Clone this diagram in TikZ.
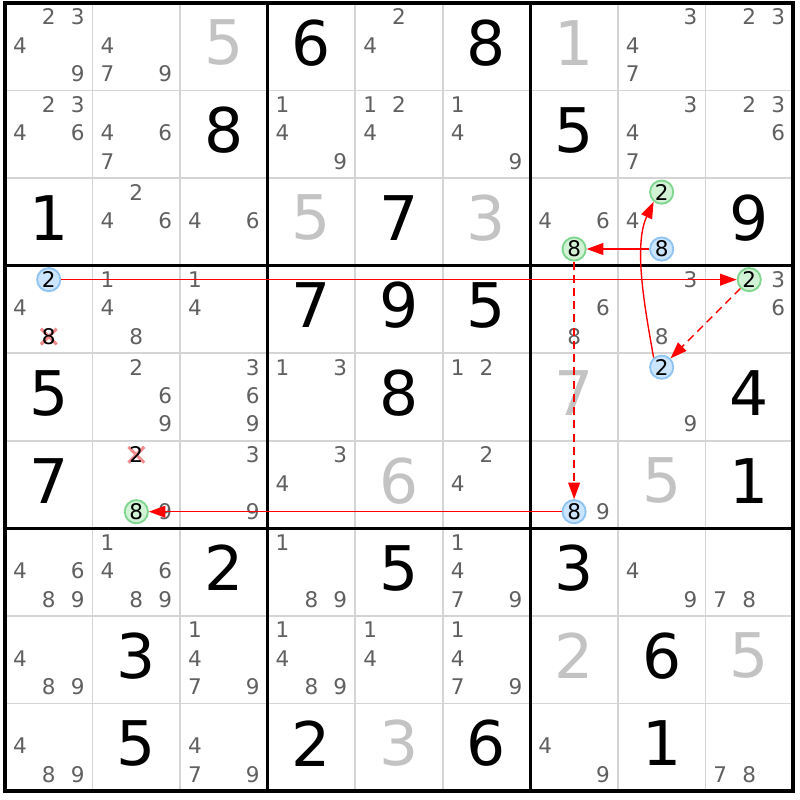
\documentclass[tikz,border=0pt]{standalone}
\usepackage{fontspec}
\setmainfont{DejaVu Sans}
\usetikzlibrary{arrows.meta}
\tikzset{>={Triangle[length=1.9mm,width=1.35mm]}}
\definecolor{candgray}{HTML}{606060}
\definecolor{solvgray}{HTML}{C3C3C3}
\definecolor{thingrid}{HTML}{D4D4D4}
\definecolor{onblue}{HTML}{CCE5FF}
\definecolor{onblueline}{HTML}{8FC3F2}
\definecolor{ongreen}{HTML}{D2F2D6}
\definecolor{ongreenline}{HTML}{7FD68F}
\definecolor{crossred}{HTML}{F08C8C}

\begin{document}
\begin{tikzpicture}[
    given/.style={font=\fontsize{20}{22}\selectfont, inner sep=0pt},
    solved/.style={given, text=solvgray},
    cand/.style={font=\fontsize{7}{8}\selectfont, text=candgray, inner sep=0pt},
    bluecand/.style={cand, text=black, circle, draw=onblueline, fill=onblue, line width=0.6pt, minimum size=0.265cm},
    greencand/.style={bluecand, draw=ongreenline, fill=ongreen},
    gonecand/.style={cand, text=black},
    cross/.style={crossred, line width=1pt},
    link/.style={->, red, line width=0.45pt},
    weak/.style={link, dash pattern=on 2.6pt off 1.7pt}]
                \useasboundingbox[fill=white] (-0.057,0.034) rectangle (9.08,-9.103);
                % cell lines
                \foreach \i in {1,2,4,5,7,8}
                    \draw[thingrid, line width=0.5pt] (\i,0) -- (\i,-9) (0,-\i) -- (9,-\i);
                \foreach \i in {3,6}
                    \draw[line width=1pt] (\i,0) -- (\i,-9) (0,-\i) -- (9,-\i);
                \draw[line width=1pt] (0,0) rectangle (9,-9);
                % givens and solved cells
                \foreach \r/\c/\v in {1/4/6, 1/6/8, 2/3/8, 2/7/5, 3/1/1, 3/5/7, 3/9/9, 4/4/7, 4/5/9, 4/6/5,
                        5/1/5, 5/5/8, 5/9/4, 6/1/7, 6/9/1, 7/3/2, 7/5/5, 7/7/3, 8/2/3, 8/8/6,
                        9/2/5, 9/4/2, 9/6/6, 9/8/1}
                    \node[given] (g\r\c) at (\c-0.5,-\r+0.545) {\v};
                \foreach \r/\c/\v in {1/3/5, 1/7/1, 3/4/5, 3/6/3, 5/7/7, 6/5/6, 6/8/5, 8/7/2, 8/9/5, 9/5/3}
                    \node[solved] (s\r\c) at (\c-0.5,-\r+0.545) {\v};
                % pencil marks
                \foreach \r/\c/\cands in {1/1/{2,3,4,9}, 1/2/{4,7,9}, 1/5/{2,4}, 1/8/{3,4,7}, 1/9/{2,3},
                        2/1/{2,3,4,6}, 2/2/{4,6,7}, 2/4/{1,4,9}, 2/5/{1,2,4}, 2/6/{1,4,9}, 2/8/{3,4,7}, 2/9/{2,3,6},
                        3/2/{2,4,6}, 3/3/{4,6}, 3/7/{4,6}, 3/8/{4},
                        4/1/{4}, 4/2/{1,4,8}, 4/3/{1,4}, 4/7/{6,8}, 4/8/{3,8}, 4/9/{3,6},
                        5/2/{2,6,9}, 5/3/{3,6,9}, 5/4/{1,3}, 5/6/{1,2}, 5/8/{9},
                        6/2/{9}, 6/3/{3,9}, 6/4/{3,4}, 6/6/{2,4}, 6/7/{9},
                        7/1/{4,6,8,9}, 7/2/{1,4,6,8,9}, 7/4/{1,8,9}, 7/6/{1,4,7,9}, 7/8/{4,9}, 7/9/{7,8},
                        8/1/{4,8,9}, 8/3/{1,4,7,9}, 8/4/{1,4,8,9}, 8/5/{1,4}, 8/6/{1,4,7,9},
                        9/1/{4,8,9}, 9/3/{4,7,9}, 9/7/{4,9}, 9/9/{7,8}}
                    \foreach \k in \cands {
                        \pgfmathsetmacro{\cx}{\c-0.83+0.33*mod(\k-1,3)}
                        \pgfmathsetmacro{\cy}{-\r+0.84-0.325*floor((\k-1)/3)}
                        \node[cand] (n\r\c\k) at (\cx,\cy) {\k};
                    }
                % eliminated candidates
                \coordinate (x41) at (0.5,-3.81);
                \coordinate (x62) at (1.5,-5.16);
                \foreach \e in {x41,x62}
                    \draw[cross] (\e) +(-0.09,-0.09) -- +(0.09,0.09) +(-0.09,0.09) -- +(0.09,-0.09);
                \node[gonecand] (e41) at (x41) {8};
                \node[gonecand] (e62) at (x62) {2};
                % chain
                \node[bluecand] (p41) at (0.5,-3.16) {2};
                \node[greencand] (q49) at (8.5,-3.16) {2};
                \node[bluecand] (p58) at (7.5,-4.16) {2};
                \node[greencand] (q38) at (7.5,-2.16) {2};
                \node[bluecand] (p38) at (7.5,-2.81) {8};
                \node[greencand] (q37) at (6.5,-2.81) {8};
                \node[bluecand] (p67) at (6.5,-5.81) {8};
                \node[greencand] (q62) at (1.5,-5.81) {8};
                \draw[link] (p41) -- (q49);
                \draw[weak] (q49) -- (p58);
                \draw[link] (p58.130) to[out=100, in=-115, looseness=0.8] (q38.-130);
                \draw[link] (p38) -- (q37);
                \draw[weak] (q37) -- (p67);
                \draw[link] (p67) -- (q62);
    \end{tikzpicture}
\end{document}
